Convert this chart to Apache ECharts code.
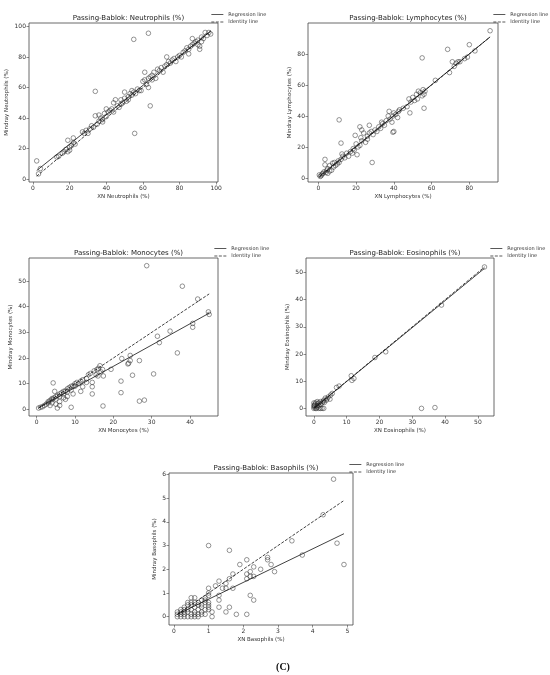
<!DOCTYPE html>
<html><head><meta charset="utf-8">
<script src="https://cdn.jsdelivr.net/npm/echarts@6/dist/echarts.min.js"></script>
<style>html,body{margin:0;padding:0;background:#fff}#c{width:550px;height:675px}</style>
</head><body><div id="c"></div>
<script>
// ---------- DATA ----------
const panelTitles = ['Passing-Bablok: Neutrophils (%)','Passing-Bablok: Lymphocytes (%)','Passing-Bablok: Monocytes (%)','Passing-Bablok: Eosinophils (%)','Passing-Bablok: Basophils (%)'];
const xNames = ['XN Neutrophils (%)','XN Lymphocytes (%)','XN Monocytes (%)','XN Eosinophils (%)','XN Basophils (%)'];
const yNames = ['Mindray Neutrophils (%)','Mindray Lymphocytes (%)','Mindray Monocytes (%)','Mindray Eosinophils (%)','Mindray Basophils (%)'];
const legendNames = ['Regression line','Identity line'];
const caption = '(C)';

const neutrophilPoints = [[2,12],[34,57.5],[55,91.5],[63,95.5],[55.5,30],[64,48],
[3,3.5],[4,7],[13,14.5],[14,15],[16,17],[17,18],[18,19.5],[19,18],[19,25.5],[20,21],[20,19],[21,22],[22,27],[22,24],[23,23],
[27,31],[28,30],[29,32],[30,30],[31,33],[32,35],[33,34],[34,41.5],[35,36],[36,38],[36,42],[37,40],[38,39],[38,37.5],[39,43],
[40,46],[40,41],[41,44],[42,45],[43,46],[44,50],[44,44],[45,52],[46,48],[47,47],[48,52],[48,49],[49,50],[50,57],[50,53],
[51,51],[52,54],[52,52],[53,56],[54,55],[54,58],[55,57],[56,56],[57,59],[58,58],[59,58],[60,64],[61,65],[61,70],[62,62],
[63,66],[63,60],[64,67],[65,68],[65,65],[66,70],[67,66],[68,72],[69,71],[70,73],[71,70],[72,74],[73,80],[73,75],[74,77],
[75,76],[76,78],[77,79],[78,77],[79,80],[80,81],[81,80],[82,83],[83,84],[84,86],[85,82],[85,85],[86,87],[87,92],[87,88],
[88,89],[89,90],[90,91],[90,88],[91,87],[91,85],[92,90],[92,93],[93,92],[94,96],[95,94],[96,96],[97,95]];
const neutrophilRegression = [[2,5.7],[97,96.9]];
const neutrophilIdentity = [[2,2],[97,97]];

const lymphocytePoints = [[11,37.5],[12,22.5],[3.5,12],[19.5,27.5],[28.5,10],[55,77.5],[56,45],[48.5,42],[68.5,83],[80,86],[91,95],
[40,30],[39.5,29.5],[22,33],[27,34],
[0.5,2],[1,1],[1.5,1.5],[2,2.5],[2.5,3],[3,4],[3.5,8.5],[4,3.5],[4.5,5],[5,6],[5,3],[6,8],[6,4.5],[7,5],[7.5,9.5],[8,7],
[8.5,10],[9,8],[10,9],[10.5,11],[11,10],[12,12],[12.5,15.5],[13,14],[14,13],[15,16],[16,14],[17,17],[18,16],[18.5,19],
[19,18],[20,22],[20.5,15],[21,20],[22,21],[22.5,26],[23,24],[23,31],[24,29],[25,23],[26,27],[26,25],[27,29],[28,30],
[29,28],[30,31],[31,30],[32,33],[33,32],[33.5,36],[34,35],[35,34],[36,37],[37,40],[37.5,43],[38,38],[39,36],[39.5,40],
[40,42],[41,41],[42,39],[42.5,43],[43,44],[45,45],[47,46],[48,51],[49,49],[50,52],[51,50],[52,54],[52.5,51],[53,56],
[54,55],[55,53],[55.5,57],[56,54],[56.5,56],[62,63],[69.5,68],[71,75],[72,72],[73,74],[74,75],[75,75],[77.5,77],[79,78],[83,82]];
const lymphocyteRegression = [[0.5,1],[91,91]];
const lymphocyteIdentity = [[0.5,0.5],[91,91]];

const monocytePoints = [[28.7,56],[38,48],[42,43],[44.8,38],[45,37],[40.7,33.5],[40.7,32],[34.8,30.5],[31.5,28.5],[32,26],
[36.7,22],[30.5,13.8],[26.8,19],[24.4,21],[24.4,19],[24,18],[23.8,17.7],[25,13.3],[22.2,19.8],[22,11],[22,6.5],
[26.8,3.2],[28.1,3.6],[19.4,15.6],[17.4,13],[17.3,1.3],[16.5,17],[16.1,16],[17.2,15.5],[16.8,14.6],[15.7,15.5],[16,13],
[4.3,10.3],[14.5,6],[14.5,8.8],[14.5,10.5],[9,0.8],[5.4,0.5],[4.7,7],[7.5,3.9],
[0.5,0.5],[1,0.8],[1.5,1],[2,1.5],[2.5,2],[3,2.5],[3,3],[3.5,3.5],[4,3.8],[4,4.2],[4.5,4.5],[5,5],[5,4],[5.5,5.5],
[6,6],[6,5],[6.5,6.5],[7,7],[7,6],[7.5,7.2],[8,8],[8,6.8],[8.5,8.5],[9,9],[9,7.5],[9.5,9.2],[10,10],[10,9],[10.5,10.5],
[11,10],[11.5,11],[12,11.5],[12,8.8],[13,12],[13,10.5],[13.5,13.5],[14,14],[15,15],[15.5,13.5],[5,2],[6,3],[4,2.5],
[3.5,1.5],[7,4.5],[8,5],[9.5,6],[11.5,7],[6,1.5]];
const monocyteRegression = [[0.5,0.6],[45,37.5]];
const monocyteIdentity = [[0.5,0.5],[45,45]];

const eosinophilPoints = [[52,52],[38.9,38],[18.6,18.7],[21.9,20.8],[11.4,12],[11.6,10.3],[12.2,11],[6.9,7.7],[7.7,8.2],
[5.6,5.5],[5.1,4.9],[4.9,3.4],[4.4,4.2],[3.8,3],[4,3.5],[32.8,0],[36.9,0.3],
[0,0],[0.1,0.5],[0.2,1],[0.3,1.5],[0.5,0],[0.5,2],[1,0.5],[1,1],[1,2.5],[1.5,1],[1.5,2],[2,1.5],[2,2.5],[2.5,2],
[2.5,0],[3,3],[3,0],[2,0],[1.5,0],[0.8,0],[0,1],[0,2],[2.8,2.5],[3.2,2.2],[3.5,3.8],[1.2,1.8]];
const eosinophilRegression = [[0,0],[52,51.5]];
const eosinophilIdentity = [[0,0],[52,52]];

const basophilPoints = [[4.6,5.8],[4.3,4.3],[3.4,3.2],[4.7,3.1],[4.9,2.2],[3.7,2.6],[1,3],[1.6,2.8],[2.1,2.4],[1.9,2.2],
[2.7,2.5],[2.7,2.4],[2.8,2.2],[2.9,1.9],[2.5,2],[2.3,2.1],[2.2,1.9],[2.1,1.8],[2.2,1.7],[2.1,1.6],[2.3,1.7],[2.2,0.9],
[2.3,0.7],[2.1,0.1],[1.8,0.1],[1.6,0.4],[1.5,0.2],[1.7,1.8],[1.6,1.6],[1.7,1.2],[1.5,1.4],[1.5,1.2],[1.4,1.2],[1.3,1.5],
[1.2,1.3],[1.3,0.9],[1.3,0.7],[1.3,0.4],[1.1,0],[1,1.2],[1,1],[1,0.9],[1.1,0.2],
[0.1,0],[0.1,0.1],[0.1,0.2],[0.2,0],[0.2,0.1],[0.2,0.2],[0.3,0],[0.3,0.1],[0.3,0.3],[0.3,0.4],[0.4,0],[0.4,0.2],
[0.4,0.3],[0.4,0.5],[0.4,0.6],[0.5,0.1],[0.5,0.3],[0.5,0.5],[0.5,0.8],[0.5,0.6],[0.6,0.1],[0.6,0.2],[0.6,0.4],[0.6,0.6],
[0.6,0.8],[0.7,0],[0.7,0.3],[0.7,0.5],[0.7,0.6],[0.7,0.1],[0.8,0.2],[0.8,0.5],[0.8,0.7],[0.8,0.4],[0.9,0.3],[0.9,0.6],
[0.9,0.8],[0.9,0.7],[1,0.4],[1,0.6],[1,0.5],[0.9,0.1],[0.2,0.3],[0.3,0.2],[0.5,0],[0.6,0],[0.8,0.1],[1,0.3]];
const basophilRegression = [[0.1,0.1],[4.9,3.5]];
const basophilIdentity = [[0.1,0.1],[4.9,4.9]];

const neutrophilTicksX = [0,20,40,60,80,100], neutrophilTicksY = [0,20,40,60,80,100];
const lymphocyteTicksX = [0,20,40,60,80], lymphocyteTicksY = [0,20,40,60,80];
const monocyteTicksX = [0,10,20,30,40], monocyteTicksY = [0,10,20,30,40,50];
const eosinophilTicksX = [0,10,20,30,40,50], eosinophilTicksY = [0,10,20,30,40,50];
const basophilTicksX = [0,1,2,3,4,5], basophilTicksY = [0,1,2,3,4,5,6];

// ---------- LAYOUT ----------
const layout = [
 {g:{left:29,top:23,width:189,height:159}, xr:[-2.2,101], yr:[-1.8,102.2], yGap:19, lg:{left:206,top:7}},
 {g:{left:308,top:23,width:190,height:159}, xr:[-5.5,95.2], yr:[-2.6,100], yGap:15, lg:{left:488,top:7}},
 {g:{left:29,top:258,width:189,height:158}, xr:[-2,47.3], yr:[-2.6,59], yGap:15, lg:{left:209,top:241}},
 {g:{left:306,top:258,width:188,height:158}, xr:[-2.4,54.9], yr:[-2.8,55.3], yGap:15, lg:{left:485,top:241}},
 {g:{left:169,top:473,width:184,height:152}, xr:[-0.14,5.16], yr:[-0.35,6.06], yGap:11, lg:{left:344,top:457}}
];
const pointSets = [neutrophilPoints, lymphocytePoints, monocytePoints, eosinophilPoints, basophilPoints];
const regSets = [neutrophilRegression, lymphocyteRegression, monocyteRegression, eosinophilRegression, basophilRegression];
const idSets = [neutrophilIdentity, lymphocyteIdentity, monocyteIdentity, eosinophilIdentity, basophilIdentity];
const ticksX = [neutrophilTicksX, lymphocyteTicksX, monocyteTicksX, eosinophilTicksX, basophilTicksX];
const ticksY = [neutrophilTicksY, lymphocyteTicksY, monocyteTicksY, eosinophilTicksY, basophilTicksY];

const FONT = 'DejaVu Sans';
const ink = '#222';
const grid=[], xAxis=[], yAxis=[], series=[], title=[], legend=[];
layout.forEach((L,i)=>{
  grid.push(Object.assign({show:true, borderColor:'#444', borderWidth:0.8, backgroundColor:'#fff'}, L.g));
  const common = {
    gridIndex:i, type:'value', splitLine:{show:false},
    axisLine:{show:false, onZero:false},
    axisTick:{show:true, length:2.5, lineStyle:{color:'#444', width:0.6}},
    axisLabel:{fontSize:6, color:'#333', fontFamily:FONT, margin:3},
    nameLocation:'middle', nameTextStyle:{fontSize:5.5, color:'#333', fontFamily:FONT}
  };
  xAxis.push(Object.assign({}, common, {min:L.xr[0], max:L.xr[1], name:xNames[i], nameGap:12,
    axisTick:Object.assign({}, common.axisTick, {customValues:ticksX[i]}),
    axisLabel:Object.assign({}, common.axisLabel, {customValues:ticksX[i]})}));
  yAxis.push(Object.assign({}, common, {min:L.yr[0], max:L.yr[1], name:yNames[i], nameGap:L.yGap,
    axisTick:Object.assign({}, common.axisTick, {customValues:ticksY[i]}),
    axisLabel:Object.assign({}, common.axisLabel, {customValues:ticksY[i]})}));
  title.push({text:panelTitles[i], left:L.g.left+L.g.width/2, top:L.g.top-13, textAlign:'center',
    textStyle:{fontSize:7, fontWeight:'normal', color:'#222', fontFamily:FONT}});
  legend.push({data:legendNames, orient:'vertical', left:L.lg.left, top:L.lg.top, itemWidth:12, itemHeight:5, itemGap:2.5,
    selectedMode:false, itemStyle:{opacity:0, borderWidth:0}, lineStyle:{width:0.7, color:'#111'},
    textStyle:{fontSize:5, color:'#333', fontFamily:FONT}});
  series.push({type:'scatter', xAxisIndex:i, yAxisIndex:i, data:pointSets[i], symbol:'circle', symbolSize:4.6,
    itemStyle:{color:'rgba(0,0,0,0)', borderColor:ink, borderWidth:0.6}, silent:true});
  series.push({type:'line', name:legendNames[0], xAxisIndex:i, yAxisIndex:i, data:regSets[i], symbol:'none',
    itemStyle:{color:'#111'}, lineStyle:{color:'#111', width:0.8, type:'solid'}, silent:true});
  series.push({type:'line', name:legendNames[1], xAxisIndex:i, yAxisIndex:i, data:idSets[i], symbol:'none',
    itemStyle:{color:'#111'}, lineStyle:{color:'#111', width:0.8, type:[3,1.5]}, silent:true});
});
title.push({text:caption, left:278, top:657, textAlign:'center',
  textStyle:{fontSize:10, fontWeight:'bold', color:'#111', fontFamily:'Liberation Serif'}});

const chart = echarts.init(document.getElementById('c'), null, {renderer:'canvas'});
chart.setOption({animation:false, backgroundColor:'#fff', grid, xAxis, yAxis, series, title, legend});
</script></body></html>
